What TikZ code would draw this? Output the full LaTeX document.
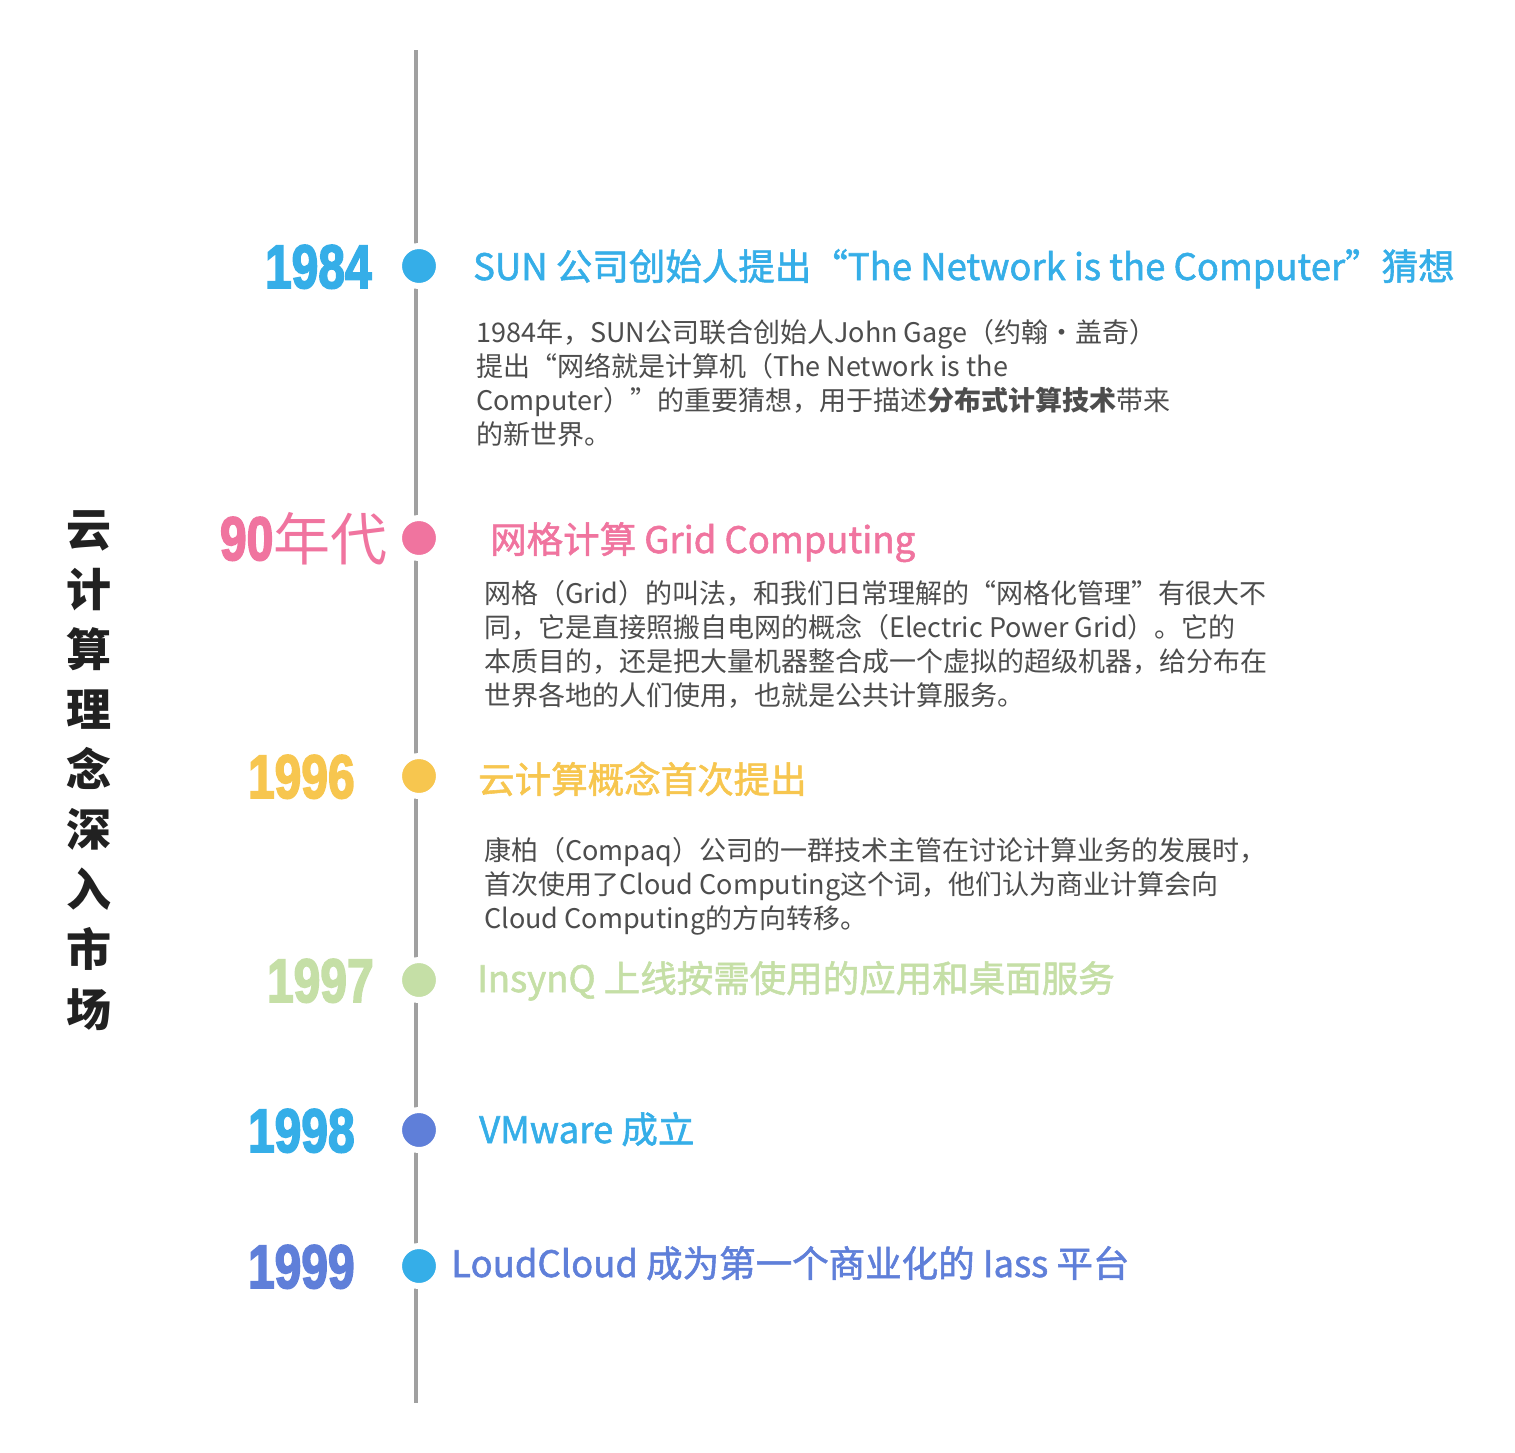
\documentclass[tikz,border=0pt]{standalone}
\usepackage{fontspec}
\usepackage{graphicx}
\setmainfont{Noto Sans CJK SC}
\newfontfamily\cjk{Noto Sans CJK SC}
\newfontfamily\titlef[FakeBold=1.5]{Noto Sans CJK SC}
\newfontfamily\yearf[BoldFeatures={FakeBold=3}]{Liberation Sans}
\definecolor{cblue}{HTML}{35AEE8}
\definecolor{cpink}{HTML}{F0749F}
\definecolor{cyellow}{HTML}{F7C64F}
\definecolor{cgreen}{HTML}{C5DFA6}
\definecolor{cviolet}{HTML}{5F7FD9}
\definecolor{cbody}{HTML}{4D4D4D}
\definecolor{cline}{HTML}{A0A0A0}
\newcommand{\yrtxt}[1]{\scalebox{0.78}[1]{\fontsize{61.5}{61.5}\yearf\bfseries #1}}
\tikzset{
  dot/.style={circle, minimum size=40pt, inner sep=0pt, draw=white, line width=6pt},
  yearlbl/.style={anchor=base west, inner sep=0pt, outer sep=0pt},
  ttl/.style={anchor=base west, inner sep=0pt, font=\fontsize{36.5}{36.5}\titlef},
  bodytxt/.style={anchor=base west, inner sep=0pt, align=left, text=cbody, font=\fontsize{27}{34}\cjk},
  vtitle/.style={inner sep=0pt, align=center, text=black!87, font=\fontsize{45}{60}\cjk\bfseries}
}
\begin{document}
\begin{tikzpicture}[x=1pt,y=-1pt]
\useasboundingbox[fill=white] (0,0) rectangle (1515,1452);
% timeline
\coordinate (ltop) at (416,50);
\coordinate (lbot) at (416,1403);
\draw[cline, line width=4pt] (ltop) -- (lbot);
% dots
\node[dot, fill=cblue]   (d1) at (419,266) {};
\node[dot, fill=cpink]   (d2) at (419,538) {};
\node[dot, fill=cyellow] (d3) at (419,776) {};
\node[dot, fill=cgreen]  (d4) at (419,980) {};
\node[dot, fill=cviolet] (d5) at (419,1130) {};
\node[dot, fill=cblue]   (d6) at (419,1266) {};
% vertical title
\node[vtitle] (vt) at (89,771) {云\\计\\算\\理\\念\\深\\入\\市\\场};
% year labels
\node[yearlbl, text=cblue]   (y1) at (265,288) {\yrtxt{1984}};
\node[yearlbl, text=cpink]   (y2) at (220,560) {\yrtxt{90}{\fontsize{57}{57}\cjk 年代}};
\node[yearlbl, text=cyellow] (y3) at (248,798) {\yrtxt{1996}};
\node[yearlbl, text=cgreen]  (y4) at (267,1002) {\yrtxt{1997}};
\node[yearlbl, text=cblue]   (y5) at (248,1152) {\yrtxt{1998}};
\node[yearlbl, text=cviolet] (y6) at (248,1288) {\yrtxt{1999}};
% titles
\node[ttl, text=cblue]   (t1) at (473,280) {SUN 公司创始人提出“The Network is the Computer”猜想};
\node[ttl, text=cpink]   (t2) at (490,553) {网格计算 Grid Computing};
\node[ttl, text=cyellow] (t3) at (478,793) {云计算概念首次提出};
\node[ttl, text=cgreen]  (t4) at (477,992) {InsynQ 上线按需使用的应用和桌面服务};
\node[ttl, text=cblue]   (t5) at (479,1143) {VMware 成立};
\node[ttl, text=cviolet] (t6) at (451,1277) {LoudCloud 成为第一个商业化的 Iass 平台};
% bodies (base anchor = last line's baseline)
\node[bodytxt] (b1) at (476,444) {1984年，SUN公司联合创始人John Gage（约翰·盖奇）\\提出“网络就是计算机（The Network is the\\Computer）”的重要猜想，用于描述{\bfseries 分布式计算技术}带来\\的新世界。};
\node[bodytxt] (b2) at (484,705) {网格（Grid）的叫法，和我们日常理解的“网格化管理”有很大不\\同，它是直接照搬自电网的概念（Electric Power Grid）。它的\\本质目的，还是把大量机器整合成一个虚拟的超级机器，给分布在\\世界各地的人们使用，也就是公共计算服务。};
\node[bodytxt] (b3) at (484,928) {康柏（Compaq）公司的一群技术主管在讨论计算业务的发展时，\\首次使用了Cloud Computing这个词，他们认为商业计算会向\\Cloud Computing的方向转移。};
\end{tikzpicture}
\end{document}
